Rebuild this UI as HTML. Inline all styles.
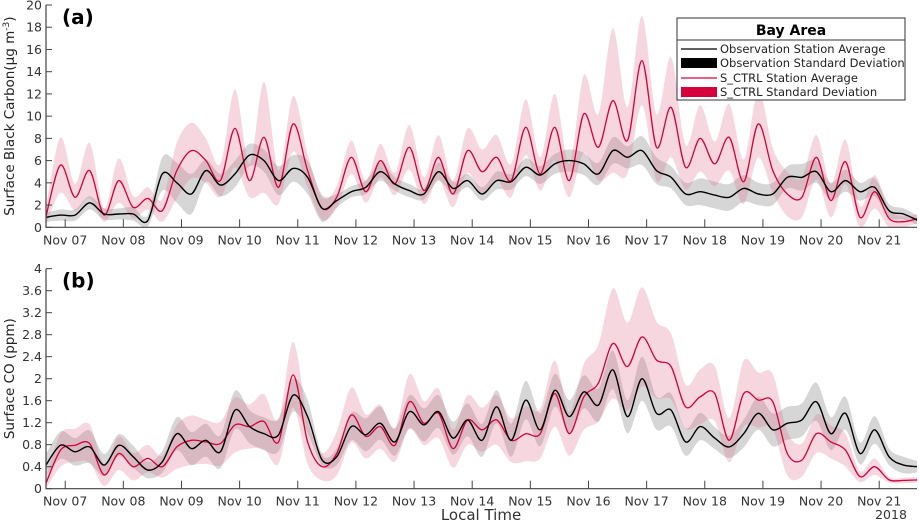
<!DOCTYPE html>
<html><head><meta charset="utf-8">
<style>
body{margin:0;background:#fff;}
svg{display:block;font-family:"DejaVu Sans","Liberation Sans",sans-serif;}
</style></head>
<body>
<svg id="chart" width="919" height="525" viewBox="0 0 919 525"></svg>
<script>
// ---- data (6-hourly, starting Nov 06 ~16:00, days offset from Nov 07) ----
const tStart = -0.33;
const tStep = 0.25;
const dayLabels = ["Nov 07","Nov 08","Nov 09","Nov 10","Nov 11","Nov 12","Nov 13","Nov 14","Nov 15","Nov 16","Nov 17","Nov 18","Nov 19","Nov 20","Nov 21"];
const bcTicks = [0,2,4,6,8,10,12,14,16,18,20];
const coTicks = [0,0.4,0.8,1.2,1.6,2,2.4,2.8,3.2,3.6,4];
const coTickLabels = ["0","0.4","0.8","1.2","1.6","2","2.4","2.8","3.2","3.6","4"];

const obsBC = [0.9,1.1,1.1,2.2,1.2,1.2,1.2,0.6,4.8,4.0,3.0,5.1,3.8,4.8,6.5,6.0,4.2,5.3,4.5,1.7,2.4,3.2,3.6,5.0,3.9,3.3,3.0,5.0,3.5,4.2,3.0,4.2,4.1,5.4,4.7,5.7,6.0,5.7,4.8,6.9,6.3,6.9,5.1,4.5,3.0,3.2,2.9,2.7,3.5,3.0,3.0,4.5,4.5,5.0,3.2,4.2,3.2,3.6,1.5,1.2,0.6];
const obsBCsd = [0.4,0.5,0.5,0.6,0.5,0.5,0.6,0.5,1.5,1.8,1.8,1.0,1.0,1.2,1.0,1.0,1.3,1.2,1.5,1.2,0.6,0.5,0.6,0.8,0.6,0.6,0.5,0.8,0.6,0.6,0.6,0.8,0.7,0.8,0.8,0.9,1.0,1.0,1.0,1.2,1.0,1.3,1.2,1.0,1.0,1.2,1.2,1.2,1.2,1.0,1.0,1.0,1.2,1.0,0.8,1.0,0.8,0.8,0.6,0.5,0.4];
const simBC = [1.0,5.6,2.7,5.1,1.1,4.2,1.8,2.6,1.5,5.1,6.9,6.0,4.2,8.9,4.2,8.1,3.6,9.3,5.1,1.7,2.7,6.3,3.2,6.0,3.9,7.2,3.3,6.3,3.0,6.9,5.0,6.3,4.2,9.0,4.8,9.0,4.2,10.2,7.2,11.4,7.8,15.0,7.2,10.8,5.4,8.0,5.7,8.1,4.1,9.3,5.1,3.0,2.7,6.3,2.4,5.9,0.9,3.2,0.8,0.5,0.8];
const simBCsd = [0.8,2.5,1.2,2.5,0.6,2.0,1.0,1.0,1.0,2.5,2.5,2.0,1.5,3.5,1.5,5.0,1.5,2.5,1.5,1.0,1.0,1.5,1.0,1.5,1.0,2.0,1.2,2.0,1.2,2.0,2.0,2.0,1.5,2.5,1.5,3.0,1.5,3.5,3.0,6.5,3.0,4.0,3.0,4.5,2.0,3.0,2.0,3.0,2.0,3.0,2.0,2.0,1.8,2.0,1.5,2.0,1.0,1.5,0.8,0.5,0.4];

const obsCO = [0.43,0.79,0.67,0.76,0.43,0.79,0.58,0.34,0.49,1.0,0.73,0.88,0.67,1.43,1.13,1.0,0.98,1.70,1.31,0.52,0.58,1.13,0.98,1.19,0.85,1.40,1.16,1.40,0.92,1.25,0.88,1.49,0.88,1.61,1.07,1.79,1.31,1.76,1.52,2.16,1.31,2.0,1.37,1.43,0.85,1.13,0.92,0.76,1.0,1.37,1.07,1.19,1.25,1.58,1.0,1.37,0.64,1.07,0.58,0.43,0.40];
const obsCOsd = [0.2,0.25,0.25,0.3,0.2,0.2,0.2,0.15,0.2,0.3,0.3,0.3,0.3,0.35,0.3,0.3,0.3,0.3,0.3,0.1,0.15,0.25,0.3,0.3,0.25,0.3,0.3,0.3,0.3,0.3,0.3,0.3,0.3,0.35,0.3,0.3,0.3,0.3,0.3,0.35,0.3,0.4,0.3,0.3,0.25,0.25,0.2,0.2,0.25,0.3,0.3,0.3,0.3,0.35,0.3,0.3,0.2,0.25,0.15,0.15,0.1];
const simCO = [0.1,0.70,0.79,0.82,0.25,0.64,0.40,0.55,0.40,0.76,0.88,0.85,0.82,1.16,1.13,1.22,0.85,2.07,0.85,0.40,0.64,1.34,0.95,1.13,0.79,1.58,1.19,1.37,0.73,1.25,1.07,1.25,0.88,1.0,1.0,1.73,1.0,1.67,1.92,2.64,2.22,2.76,2.34,2.22,1.49,1.67,1.73,0.88,1.73,1.61,1.58,0.64,0.52,1.0,0.85,0.70,0.22,0.40,0.16,0.15,0.16];
const simCOsd = [0.1,0.3,0.3,0.35,0.2,0.3,0.25,0.25,0.2,0.4,0.45,0.4,0.4,0.5,0.4,0.5,0.4,0.6,0.4,0.25,0.4,0.5,0.4,0.4,0.3,0.5,0.4,0.45,0.35,0.45,0.4,0.45,0.4,0.5,0.45,0.6,0.4,0.6,0.7,1.0,0.8,0.9,0.7,0.6,0.4,0.5,0.5,0.4,0.6,0.5,0.5,0.4,0.3,0.35,0.3,0.3,0.1,0.15,0.05,0.05,0.05];

const NS = "http://www.w3.org/2000/svg";
const svg = document.getElementById('chart');
const X0 = 46, X1 = 917;
const D0 = -0.33, D1 = 14.65;
function xs(t){ return X0 + (t - D0) / (D1 - D0) * (X1 - X0); }
function mk(tag, attrs, parent){ const e = document.createElementNS(NS, tag); for (const k in attrs) e.setAttribute(k, attrs[k]); (parent||svg).appendChild(e); return e; }
// Catmull-Rom smoothed path segments through points (no initial M)
function smooth(pts){
  let d = '';
  for (let i = 0; i < pts.length - 1; i++){
    const p0 = pts[Math.max(0, i - 1)], p1 = pts[i], p2 = pts[i + 1], p3 = pts[Math.min(pts.length - 1, i + 2)];
    const k = 0.16;
    const c1 = [p1[0] + (p2[0] - p0[0]) * k, p1[1] + (p2[1] - p0[1]) * k];
    const c2 = [p2[0] - (p3[0] - p1[0]) * k, p2[1] - (p3[1] - p1[1]) * k];
    d += ` C${c1[0].toFixed(1)},${c1[1].toFixed(1)} ${c2[0].toFixed(1)},${c2[1].toFixed(1)} ${p2[0].toFixed(1)},${p2[1].toFixed(1)}`;
  }
  return d;
}

function panel(cfg){
  const ys = v => cfg.yBot - (v - cfg.vMin) / (cfg.vMax - cfg.vMin) * (cfg.yBot - cfg.yTop);
  const g = mk('g', {});
  
  
  const clipId = cfg.name + '-clip';
  const cp = mk('clipPath', {id: clipId}, g);
  mk('rect', {x: X0, y: cfg.yTop, width: X1 - X0, height: cfg.yBot - cfg.yTop}, cp);
  const plot = mk('g', {'clip-path': 'url(#' + clipId + ')'}, g);
  function band(mean, sd, fill, op, nm){
    const up = [], dn = [];
    for (let i = 0; i < mean.length; i++){
      const t = tStart + i * tStep;
      up.push([xs(t), ys(Math.min(cfg.vMax, mean[i] + sd[i]))]);
      dn.push([xs(t), ys(Math.max(0, mean[i] - sd[i]))]);
    }
    dn.reverse();
    const d = `M${up[0][0]},${up[0][1]}` + smooth(up) + ` L${dn[0][0]},${dn[0][1]}` + smooth(dn) + ' Z';
    const p = mk('path', {d: d, fill: fill, 'fill-opacity': op}, plot);
    
    
  }
  function line(mean, color, w, nm){
    const pts = mean.map((v, i) => [xs(tStart + i * tStep), ys(v)]);
    const p = mk('path', {d: `M${pts[0][0]},${pts[0][1]}` + smooth(pts), fill: 'none', stroke: color, 'stroke-width': w, 'stroke-linejoin': 'round'}, plot);
    
    
  }
  band(cfg.obs, cfg.obsSd, '#b4b4b4', 0.55, 'observation-std-band');
  band(cfg.sim, cfg.simSd, '#e07090', 0.28, 'sctrl-std-band');
  line(cfg.sim, '#d6003b', 1.3, 'sctrl-average-line');
  line(cfg.obs, '#000', 1.4, 'observation-average-line');
  const ax = mk('path', {d: `M${X0},${cfg.yTop} V${cfg.yBot} H${X1}`, stroke: '#444', fill: 'none', 'stroke-width': 1.2}, g);
  
  
  cfg.ticks.forEach((v, i) => {
    const y = ys(v);
    mk('line', {x1: X0, x2: X0 + 6, y1: y, y2: y, stroke: '#444', 'stroke-width': 1}, g);
    const tx = mk('text', {x: X0 - 4, y: y + 4.5, 'text-anchor': 'end', 'font-size': 12.5, fill: '#333'}, g);
    tx.textContent = cfg.tickLabels[i];
    
    
  });
  dayLabels.forEach((lab, i) => {
    const x = xs(i);
    mk('line', {x1: x, x2: x, y1: cfg.yBot, y2: cfg.yBot - 8, stroke: '#444', 'stroke-width': 1}, g);
    const tx = mk('text', {x: x, y: cfg.yBot + 17, 'text-anchor': 'middle', 'font-size': 12.5, fill: '#333'}, g);
    tx.textContent = lab;
    
    
  });
  const yt = mk('text', {x: 0, y: 0, transform: `translate(${cfg.ytX},${(cfg.yTop + cfg.yBot) / 2}) rotate(-90)`, 'text-anchor': 'middle', 'font-size': 13.5, fill: '#222'}, g);
  yt.innerHTML = cfg.ytitle;
  
  
  const pl = mk('text', {x: 62, y: cfg.yTop + 19, 'font-size': 20, 'font-weight': 'bold', fill: '#000'}, g);
  pl.textContent = cfg.label;
  
  
}

panel({name: 'panel-a-black-carbon', yTop: 5, yBot: 227.3, vMin: 0, vMax: 20, ticks: bcTicks, tickLabels: bcTicks.map(String),
  obs: obsBC, obsSd: obsBCsd, sim: simBC, simSd: simBCsd, ytX: 14, label: '(a)',
  ytitle: 'Surface Black Carbon(μg m<tspan dy="-5" font-size="9">-3</tspan><tspan dy="5">)</tspan>'});
panel({name: 'panel-b-co', yTop: 268.7, yBot: 488.7, vMin: 0, vMax: 4, ticks: coTicks, tickLabels: coTickLabels,
  obs: obsCO, obsSd: obsCOsd, sim: simCO, simSd: simCOsd, ytX: 14, label: '(b)',
  ytitle: 'Surface CO (ppm)'});

const xt = mk('text', {x: 481, y: 520, 'text-anchor': 'middle', 'font-size': 15, fill: '#333'});
xt.textContent = 'Local Time';


const yr = mk('text', {x: 891, y: 519, 'text-anchor': 'middle', 'font-size': 12.5, fill: '#333'});
yr.textContent = '2018';



const lg = mk('g', {});


mk('rect', {x: 677, y: 18, width: 228, height: 82, fill: '#fff', stroke: '#333', 'stroke-width': 1}, lg);
mk('line', {x1: 677, x2: 905, y1: 40, y2: 40, stroke: '#333', 'stroke-width': 1}, lg);
const lt = mk('text', {x: 791, y: 35, 'text-anchor': 'middle', 'font-size': 14, 'font-weight': 'bold', fill: '#000'}, lg);
lt.textContent = 'Bay Area';


const entries = [
  ['line', '#000', 'Observation Station Average', 49],
  ['box', '#000', 'Observation Standard Deviation', 63],
  ['line', '#d6003b', 'S_CTRL Station Average', 78],
  ['box', '#d6003b', 'S_CTRL Standard Deviation', 92]
];
entries.forEach(e => {
  const eg = mk('g', {}, lg);
  
  
  if (e[0] === 'line') mk('line', {x1: 681, x2: 717, y1: e[3], y2: e[3], stroke: e[1], 'stroke-width': 1.3}, eg);
  else mk('rect', {x: 681, y: e[3] - 5, width: 36, height: 10, fill: e[1]}, eg);
  const t = mk('text', {x: 720, y: e[3] + 4, 'font-size': 11.5, fill: '#222'}, eg);
  t.textContent = e[2];
});
</script>
</body></html>
